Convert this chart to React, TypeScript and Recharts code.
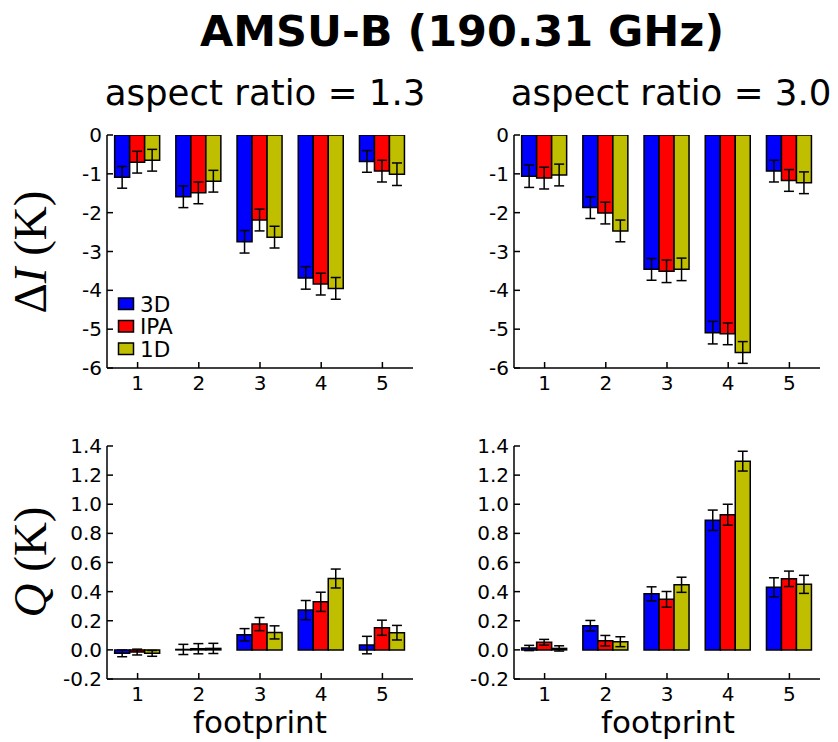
import React from 'react';
import { BarChart, Bar, XAxis, YAxis, ErrorBar } from 'recharts';

// footprint categories
const categories = ['1', '2', '3', '4', '5'];

// ΔI (K), aspect ratio 1.3
const dI13_3D = [-1.09, -1.59, -2.75, -3.68, -0.68];
const dI13_IPA = [-0.7, -1.49, -2.19, -3.84, -0.93];
const dI13_1D = [-0.65, -1.19, -2.63, -3.95, -1.01];
const dI13_err3D = [0.28, 0.28, 0.29, 0.29, 0.28];
const dI13_errIPA = [0.28, 0.28, 0.28, 0.28, 0.28];
const dI13_err1D = [0.28, 0.28, 0.28, 0.28, 0.29];

// ΔI (K), aspect ratio 3.0
const dI30_3D = [-1.06, -1.87, -3.46, -5.09, -0.93];
const dI30_IPA = [-1.11, -2.01, -3.51, -5.12, -1.17];
const dI30_1D = [-1.03, -2.47, -3.46, -5.6, -1.23];
const dI30_err3D = [0.29, 0.28, 0.28, 0.29, 0.28];
const dI30_errIPA = [0.28, 0.28, 0.29, 0.28, 0.28];
const dI30_err1D = [0.28, 0.28, 0.29, 0.28, 0.28];

// Q (K), aspect ratio 1.3
const Q13_3D = [-0.024, 0.003, 0.104, 0.273, 0.033];
const Q13_IPA = [-0.015, 0.008, 0.177, 0.33, 0.152];
const Q13_1D = [-0.024, 0.01, 0.12, 0.49, 0.118];
const Q13_err3D = [0.023, 0.035, 0.042, 0.066, 0.06];
const Q13_errIPA = [0.02, 0.035, 0.045, 0.066, 0.052];
const Q13_err1D = [0.02, 0.035, 0.045, 0.065, 0.05];

// Q (K), aspect ratio 3.0
const Q30_3D = [0.013, 0.166, 0.385, 0.89, 0.43];
const Q30_IPA = [0.052, 0.063, 0.347, 0.928, 0.488];
const Q30_1D = [0.01, 0.056, 0.447, 1.296, 0.45];
const Q30_err3D = [0.018, 0.036, 0.048, 0.07, 0.065];
const Q30_errIPA = [0.02, 0.036, 0.054, 0.072, 0.053];
const Q30_err1D = [0.018, 0.034, 0.052, 0.068, 0.062];

const dITicks = [-6, -5, -4, -3, -2, -1, 0];
const QTicks = [-0.2, 0, 0.2, 0.4, 0.6, 0.8, 1.0, 1.2, 1.4];

const series = [
  { key: 'd3', err: 'e3', name: '3D', color: '#0000ff' },
  { key: 'ipa', err: 'eipa', name: 'IPA', color: '#ff0000' },
  { key: 'd1', err: 'e1', name: '1D', color: '#bfbf00' },
];

const buildRows = (a: number[], b: number[], c: number[], ea: number[], eb: number[], ec: number[]) =>
  categories.map((cat, i) => ({ cat, d3: a[i], ipa: b[i], d1: c[i], e3: ea[i], eipa: eb[i], e1: ec[i] }));

const rowsTL = buildRows(dI13_3D, dI13_IPA, dI13_1D, dI13_err3D, dI13_errIPA, dI13_err1D);
const rowsTR = buildRows(dI30_3D, dI30_IPA, dI30_1D, dI30_err3D, dI30_errIPA, dI30_err1D);
const rowsBL = buildRows(Q13_3D, Q13_IPA, Q13_1D, Q13_err3D, Q13_errIPA, Q13_err1D);
const rowsBR = buildRows(Q30_3D, Q30_IPA, Q30_1D, Q30_err3D, Q30_errIPA, Q30_err1D);

// tick marks without labels, for the top and right edges of the frame
const NoLabel = () => <g />;

interface PanelProps {
  rows: any[];
  domain: [number, number];
  ticks: number[];
  fmt: (v: number) => string;
  left: number;
  top: number;
}

function Panel({ rows, domain, ticks, fmt, left, top }: PanelProps) {
  const axisStyle = { stroke: '#000', strokeWidth: 1.5 };
  return (
    <div style={{ position: 'absolute', left, top }}>
      <BarChart
        width={376}
        height={279}
        data={rows}
        margin={{ top: 16, right: 10, left: 0, bottom: 0 }}
        barCategoryGap="12.5%"
        barGap={0}
      >
        <XAxis
          dataKey="cat"
          interval={0}
          height={30}
          tickSize={-6}
          tickMargin={14}
          {...axisStyle}
          tick={{ fill: '#000', fontSize: 20 }}
        />
        <XAxis xAxisId="top" dataKey="cat" orientation="top" interval={0} height={0} tick={NoLabel} tickSize={-6} {...axisStyle} />
        <YAxis
          type="number"
          domain={domain}
          ticks={ticks}
          interval={0}
          allowDataOverflow
          width={60}
          tickSize={-6}
          tickMargin={11}
          tickFormatter={fmt}
          {...axisStyle}
          tick={{ fill: '#000', fontSize: 20 }}
        />
        <YAxis
          yAxisId="right"
          orientation="right"
          type="number"
          domain={domain}
          ticks={ticks}
          interval={0}
          allowDataOverflow
          width={0}
          tick={NoLabel}
          tickSize={-6}
          {...axisStyle}
        />
        {series.map((s) => (
          <Bar key={s.key} dataKey={s.key} fill={s.color} stroke="#000" strokeWidth={1.5} isAnimationActive={false}>
            <ErrorBar dataKey={s.err} width={5} stroke="#000" strokeWidth={1.5} direction="y" />
          </Bar>
        ))}
      </BarChart>
    </div>
  );
}

export default function App() {
  const fmtI = (v: number) => String(v);
  const fmtQ = (v: number) => v.toFixed(1);
  return (
    <div
      style={{
        position: 'absolute',
        left: 0,
        top: 0,
        width: 838,
        height: 742,
        background: '#fff',
        fontFamily: '"DejaVu Sans", sans-serif',
        overflow: 'hidden',
      }}
    >
      <Panel rows={rowsTL} domain={[-6, 0]} ticks={dITicks} fmt={fmtI} left={47} top={119} />
      <Panel rows={rowsTR} domain={[-6, 0]} ticks={dITicks} fmt={fmtI} left={454} top={119} />
      <Panel rows={rowsBL} domain={[-0.2, 1.4]} ticks={QTicks} fmt={fmtQ} left={47} top={430} />
      <Panel rows={rowsBR} domain={[-0.2, 1.4]} ticks={QTicks} fmt={fmtQ} left={454} top={430} />
      <svg width={838} height={742} style={{ position: 'absolute', left: 0, top: 0, pointerEvents: 'none' }}>
        <text x={462} y={46} textAnchor="middle" fontSize={43} fontWeight="bold" fill="#000">
          AMSU-B (190.31 GHz)
        </text>
        <text x={265} y={105} textAnchor="middle" fontSize={35.6} fill="#000">
          aspect ratio = 1.3
        </text>
        <text x={671} y={105} textAnchor="middle" fontSize={35.6} fill="#000">
          aspect ratio = 3.0
        </text>
        <text
          transform="translate(46,252) rotate(-90)"
          textAnchor="middle"
          fontSize={47}
          fontFamily='"Liberation Serif", serif'
          fill="#000"
        >
          Δ<tspan fontStyle="italic">I</tspan> (K)
        </text>
        <text
          transform="translate(46,562) rotate(-90)"
          textAnchor="middle"
          fontSize={47}
          fontFamily='"Liberation Serif", serif'
          fill="#000"
        >
          <tspan fontStyle="italic">Q</tspan> (K)
        </text>
        <text x={260} y={733} textAnchor="middle" fontSize={31} fill="#000">
          footprint
        </text>
        <text x={668} y={733} textAnchor="middle" fontSize={31} fill="#000">
          footprint
        </text>
        {series.map((s, i) => (
          <g key={s.key}>
            <rect x={118.5} y={298 + i * 22.5} width={15} height={11.5} fill={s.color} stroke="#000" strokeWidth={1.5} />
            <text x={140} y={311.7 + i * 22.5} fontSize={21.5} fill="#000">
              {s.name}
            </text>
          </g>
        ))}
      </svg>
    </div>
  );
}
